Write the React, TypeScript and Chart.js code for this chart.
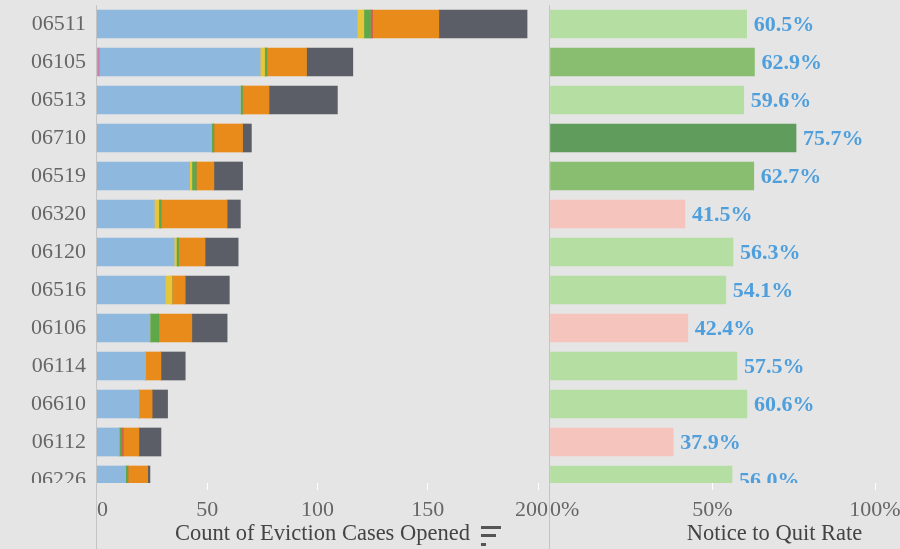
import React, { useEffect, useRef } from 'react';
import { Chart, registerables } from 'chart.js';

Chart.register(...registerables);

// ---------- data ----------
const zipCodes = ['06511', '06105', '06513', '06710', '06519', '06320', '06120', '06516', '06106', '06114', '06610', '06112', '06226'];

const category1 = [0, 1, 0, 0, 0, 0, 0, 0, 0, 0, 0, 0, 0];
const category2 = [118, 73, 65, 52, 42, 26, 35, 31, 24, 22, 19, 10, 13];
const category3 = [3, 2, 0, 0, 1, 2, 1, 3, 0, 0, 0, 0, 0];
const category4 = [3, 1, 1, 1, 2, 1, 1, 0, 4, 0, 0, 1, 1];
const category5 = [1, 0, 0, 0, 0, 0, 0, 0, 0, 0, 0, 1, 0];
const category6 = [30, 18, 12, 13, 8, 30, 12, 6, 15, 7, 6, 7, 9];
const category7 = [40, 21, 31, 4, 13, 6, 15, 20, 16, 11, 7, 10, 1];

const noticeToQuitRate = [60.5, 62.9, 59.6, 75.7, 62.7, 41.5, 56.3, 54.1, 42.4, 57.5, 60.6, 37.9, 56.0];

const countTickValues = [0, 50, 100, 150, 200];
const rateTickValues = [0, 50, 100];

const countAxisTitle = 'Count of Eviction Cases Opened';
const rateAxisTitle = 'Notice to Quit Rate';

// ---------- styles ----------
const FONT = "'Liberation Serif', 'Times New Roman', serif";
const BG = '#e5e5e5';
const AXIS_LINE = '#c4c4c4';
const TICK_COLOR = '#666666';
const TITLE_COLOR = '#444444';
const LABEL_COLOR = '#4f9fdd';

const stackSeries = [
  { name: 'Category 1', values: category1, color: '#c57fa8' },
  { name: 'Category 2', values: category2, color: '#8fb8de' },
  { name: 'Category 3', values: category3, color: '#e8c63a' },
  { name: 'Category 4', values: category4, color: '#5fa84a' },
  { name: 'Category 5', values: category5, color: '#d6614a' },
  { name: 'Category 6', values: category6, color: '#e98b1a' },
  { name: 'Category 7', values: category7, color: '#5b5e66' },
];

function rateColor(v: number): string {
  if (v < 45) return '#f5c4bc';
  if (v < 62) return '#b5dea2';
  if (v < 70) return '#89bd70';
  return '#609c5c';
}

function drawXTickLabels(chart: any, values: number[], fmt: (v: number) => string) {
  const { ctx, chartArea, scales } = chart;
  const xs = scales.x;
  ctx.save();
  ctx.font = `22px ${FONT}`;
  ctx.fillStyle = TICK_COLOR;
  ctx.textBaseline = 'middle';
  ctx.textAlign = 'left';
  values.forEach((v) => {
    const label = fmt(v);
    const px = xs.getPixelForValue(v);
    const w = ctx.measureText(label).width;
    let x0 = px - w / 2;
    x0 = Math.max(chartArea.left, Math.min(x0, chartArea.right - w));
    ctx.fillText(label, x0, chartArea.bottom + 27);
  });
  ctx.restore();
}

const leftDecor = {
  id: 'leftDecor',
  afterDraw(chart: any) {
    const { ctx, chartArea } = chart;
    ctx.save();
    // clip the partially visible last row label at the pane edge
    ctx.fillStyle = BG;
    ctx.fillRect(0, chartArea.bottom, chartArea.left - 1, chart.height - chartArea.bottom);
    // axis line
    ctx.strokeStyle = AXIS_LINE;
    ctx.lineWidth = 1;
    ctx.beginPath();
    ctx.moveTo(chartArea.left - 0.5, chartArea.top);
    ctx.lineTo(chartArea.left - 0.5, chart.height);
    ctx.stroke();
    // sort icon after title
    ctx.font = `22.5px ${FONT}`;
    const tw = ctx.measureText(countAxisTitle).width;
    const cx = (chartArea.left + chartArea.right) / 2;
    const ix = cx + tw / 2 + 11;
    ctx.fillStyle = '#555555';
    ctx.fillRect(ix, 526, 20, 3);
    ctx.fillRect(ix, 534, 15, 3);
    ctx.fillRect(ix, 543, 5, 3);
    ctx.restore();
    drawXTickLabels(chart, countTickValues, (v) => String(v));
  },
};

const rightDecor = {
  id: 'rightDecor',
  afterDraw(chart: any) {
    const { ctx, chartArea } = chart;
    ctx.save();
    ctx.strokeStyle = AXIS_LINE;
    ctx.lineWidth = 1;
    ctx.beginPath();
    ctx.moveTo(chartArea.left - 0.5, chartArea.top);
    ctx.lineTo(chartArea.left - 0.5, chart.height);
    ctx.stroke();
    // value labels
    ctx.beginPath();
    ctx.rect(chartArea.left, chartArea.top, chartArea.right - chartArea.left, chartArea.bottom - chartArea.top);
    ctx.clip();
    ctx.font = `bold 22px ${FONT}`;
    ctx.fillStyle = LABEL_COLOR;
    ctx.textBaseline = 'middle';
    ctx.textAlign = 'left';
    const meta = chart.getDatasetMeta(0);
    meta.data.forEach((bar: any, i: number) => {
      ctx.fillText(noticeToQuitRate[i].toFixed(1) + '%', bar.x + 7, bar.y + 1);
    });
    ctx.restore();
    drawXTickLabels(chart, rateTickValues, (v) => v + '%');
  },
};

const yRange = { min: -0.5, max: 12.079 };

const noPad = (s: any) => {
  s.paddingTop = 0;
  s.paddingBottom = 0;
  s.paddingLeft = 0;
  s.paddingRight = 0;
};

export default function App() {
  const leftRef = useRef<HTMLCanvasElement | null>(null);
  const rightRef = useRef<HTMLCanvasElement | null>(null);

  useEffect(() => {
    const tickGridColor = (c: any) => (c.tick && c.tick.value === 0 ? 'rgba(0,0,0,0)' : '#ffffff');

    const left = new Chart(leftRef.current as HTMLCanvasElement, {
      type: 'bar',
      data: {
        datasets: stackSeries.map((s) => ({
          label: s.name,
          data: s.values.map((v, i) => ({ x: v, y: i })),
          backgroundColor: s.color,
          borderWidth: 0,
          barThickness: 28,
          clip: 0,
        })),
      } as any,
      options: {
        indexAxis: 'y',
        animation: false,
        responsive: false,
        devicePixelRatio: 1,
        layout: { padding: { top: 5, right: 1, left: 0, bottom: 0 } },
        plugins: { legend: { display: false }, tooltip: { enabled: false } },
        scales: {
          x: {
            type: 'linear',
            position: 'bottom',
            min: 0,
            max: 204.5,
            stacked: true,
            offset: false,
            afterBuildTicks: (s: any) => {
              s.ticks = countTickValues.map((v) => ({ value: v }));
            },
            afterFit: (s: any) => {
              s.height = 66;
              noPad(s);
            },
            ticks: { display: false },
            grid: { drawOnChartArea: false, drawTicks: true, tickLength: 7, color: tickGridColor, offset: false },
            border: { display: false },
            title: {
              display: true,
              text: countAxisTitle,
              color: TITLE_COLOR,
              font: { family: FONT, size: 22.5 },
              padding: { top: 0, bottom: 1 },
            },
          },
          y: {
            type: 'linear',
            min: yRange.min,
            max: yRange.max,
            reverse: true,
            stacked: true,
            offset: false,
            afterBuildTicks: (s: any) => {
              s.ticks = zipCodes.map((_, i) => ({ value: i }));
            },
            afterFit: (s: any) => {
              s.width = 97;
              noPad(s);
            },
            ticks: {
              autoSkip: false,
              padding: 11,
              color: TICK_COLOR,
              font: { family: FONT, size: 22 },
              callback: (v: any) => zipCodes[v as number] ?? '',
            },
            grid: { display: false, drawTicks: false, offset: false },
            border: { display: false },
          },
        },
      } as any,
      plugins: [leftDecor],
    });

    const right = new Chart(rightRef.current as HTMLCanvasElement, {
      type: 'bar',
      data: {
        datasets: [
          {
            label: rateAxisTitle,
            data: noticeToQuitRate.map((v, i) => ({ x: v, y: i })),
            backgroundColor: noticeToQuitRate.map(rateColor),
            borderWidth: 0,
            barThickness: 28,
            clip: 0,
          },
        ],
      } as any,
      options: {
        indexAxis: 'y',
        animation: false,
        responsive: false,
        devicePixelRatio: 1,
        layout: { padding: { top: 5, right: 0, left: 1, bottom: 0 } },
        plugins: { legend: { display: false }, tooltip: { enabled: false } },
        scales: {
          x: {
            type: 'linear',
            position: 'bottom',
            min: 0,
            max: 138.15,
            offset: false,
            afterBuildTicks: (s: any) => {
              s.ticks = rateTickValues.map((v) => ({ value: v }));
            },
            afterFit: (s: any) => {
              s.height = 66;
              noPad(s);
            },
            ticks: { display: false },
            grid: { drawOnChartArea: false, drawTicks: true, tickLength: 7, color: tickGridColor, offset: false },
            border: { display: false },
            title: {
              display: true,
              text: rateAxisTitle,
              color: TITLE_COLOR,
              font: { family: FONT, size: 22.5 },
              padding: { top: 0, bottom: 1 },
            },
          },
          y: {
            type: 'linear',
            display: false,
            min: yRange.min,
            max: yRange.max,
            reverse: true,
            offset: false,
            grid: { offset: false },
          },
        },
      } as any,
      plugins: [rightDecor],
    });

    return () => {
      left.destroy();
      right.destroy();
    };
  }, []);

  return (
    <div
      style={{
        position: 'fixed',
        left: 0,
        top: 0,
        width: 900,
        height: 549,
        overflow: 'hidden',
        background: BG,
      }}
    >
      <canvas
        ref={leftRef}
        width={549}
        height={549}
        style={{ position: 'absolute', left: 0, top: 0, width: 549, height: 549 }}
      />
      <canvas
        ref={rightRef}
        width={450}
        height={549}
        style={{ position: 'absolute', left: 549, top: 0, width: 450, height: 549 }}
      />
    </div>
  );
}
